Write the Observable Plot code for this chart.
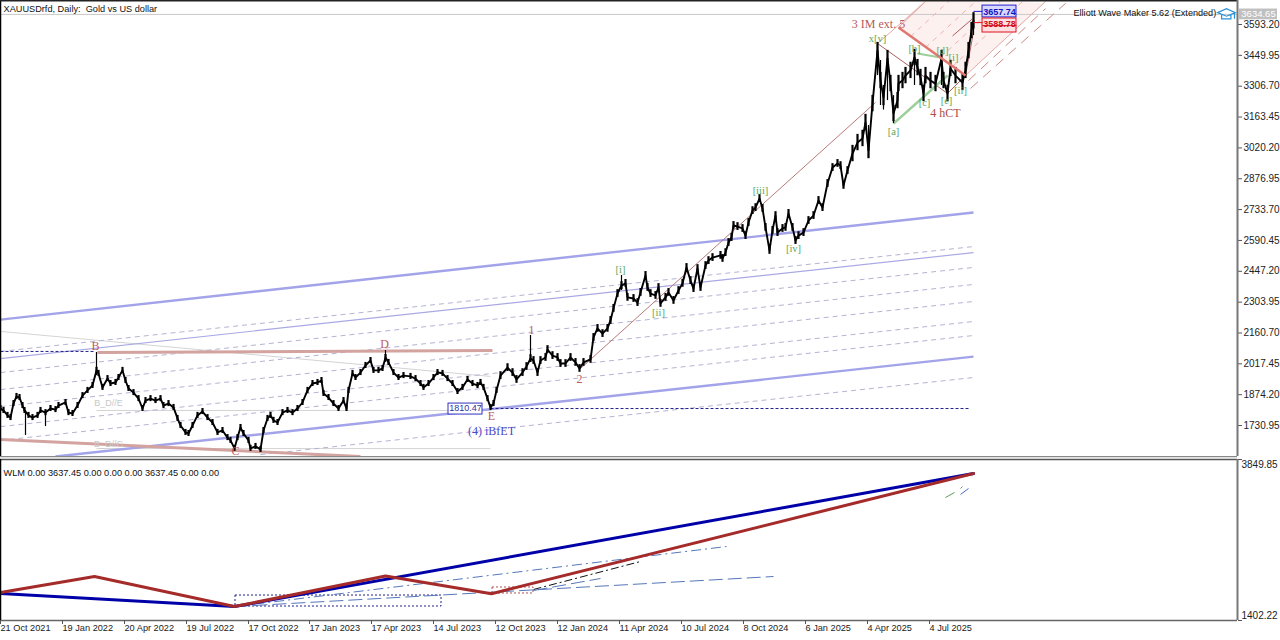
<!DOCTYPE html>
<html><head><meta charset="utf-8">
<script src="https://cdn.jsdelivr.net/npm/d3@7"></script>
<script src="https://cdn.jsdelivr.net/npm/@observablehq/plot@0.6"></script>
<style>html,body{margin:0;padding:0;background:#fff}svg{display:block}#c{width:1280px;height:640px;overflow:hidden}</style>
</head><body><div id="c"></div>
<script>
// ---------- daily bars of XAUUSD (bar number, mid price)
const bars=[0,3,7,10,13,16,19,22,24,28,32,37,40,45,50,55,58,65,68,72,77,82,87,92,96,98,102,107,110,115,118,122,125,128,133,138,142,145,150,155,160,163,168,173,177,180,185,188,192,197,202,207,212,217,222,227,230,234,237,240,243,248,
250,255,260,263,267,270,273,277,282,287,292,297,302,307,312,317,321,323,328,333,338,343,346,348,352,355,360,365,370,373,378,382,385,388,393,398,403,410,415,420,423,428,433,437,442,447,452,457,462,467,472,477,480,483,487,490,493,496,
500,507,512,516,522,526,530,533,537,540,545,547,552,557,560,565,570,575,579,583,590,593,597,602,607,610,613,617,621,625,627,633,637,640,645,647,650,655,658,660,665,668,673,678,682,686,690,693,697,700,705,
708,712,720,722,725,728,731,733,737,742,745,748,752,755,759,762,765,769,772,775,777,782,785,788,792,795,798,803,808,813,818,822,827,832,837,840,843,847,852,857,862,865,868,872,877,880,883,887,890,893,897,898,902,905,910,914,917,920,923,925,930,935,941,943,947,950,955,962,965,968,971,973];
const mids=[1810,1801,1778,1768,1833,1866,1861,1824,1801,1778,1768,1778,1801,1791,1810,1805,1824,1838,1791,1787,1824,1870,1894,1917,1987,1973,1908,1949,1926,1931,1954,1987,1940,1903,1884,1856,1810,1847,1856,1847,1856,1824,1833,1815,1764,1731,1699,1694,1731,1778,1796,1768,1745,1699,1708,1675,1662,1625,1675,1722,1694,1662,
1625,1634,1620,1708,1764,1778,1755,1745,1791,1801,1791,1810,1838,1894,1926,1931,1940,1880,1861,1833,1810,1847,1810,1894,1973,1954,1977,2010,2033,1987,1987,1996,2047,2024,1977,1954,1963,1959,1949,1926,1908,1926,1954,1977,1973,1949,1926,1889,1908,1945,1926,1917,1931,1908,1856,1815,1833,1894,
1963,2000,1977,1945,1977,2005,2042,2033,1977,2033,2047,2084,2056,2047,2019,2019,2047,2024,1996,2024,2038,2140,2182,2158,2182,2219,2275,2344,2381,2391,2326,2321,2302,2349,2428,2372,2344,2335,2372,2298,2326,2349,2312,2358,2391,2465,2404,2367,2460,2372,2474,
2497,2511,2521,2507,2534,2581,2604,2660,2655,2646,2613,2674,2729,2743,2785,2739,2651,2544,2637,2706,2627,2646,2651,2716,2651,2590,2613,2627,2683,2706,2776,2743,2855,2929,2948,2938,2846,2915,2994,3045,3064,3138,3008,3226,3472,3333,3254,3435,3319,3180,3240,3319,3333,3356,3380,3440,3393,3347,3273,3356,3333,3319,3435,3333,3273,3389,3356,3324,3380,3472,3565,3610];
// half-range of a bar, by era: [first bar of era, dollars]
const eraBars=[0,500,850];
const eraSpread=[14,18,38];
// long wicks read individually
const wickBars=[25,45,96,385,530,621,868,877,880,883,887,893,914,941,973];
const wickHighs=[1801,1791,2070,2079,2149,2428,3124,3505,3426,3310,3435,3263,3440,3435,3645];
const wickLows=[1685,1726,1963,2024,2024,2358,2971,3356,3217,3196,3240,3133,3310,3310,3542];

// ---------- axis
const priceTicks=[3593.20,3449.95,3306.70,3163.45,3020.20,2876.95,2733.70,2590.45,2447.20,2303.95,2160.70,2017.45,1874.20,1730.95];
const dateBars=[0,62,124,186,248,309,371,433,495,557,619,681,743,805,867,929];
const dateLabels=["21 Oct 2021","19 Jan 2022","20 Apr 2022","19 Jul 2022","17 Oct 2022","17 Jan 2023","17 Apr 2023","14 Jul 2023","12 Oct 2023","12 Jan 2024","11 Apr 2024","10 Jul 2024","8 Oct 2024","6 Jan 2025","4 Apr 2025","4 Jul 2025"];
const wlmTicks=[3849.85,1402.22];

// ---------- drawn objects as [bar1,price1,bar2,price2]
const channelThick=[[0,2223,973,2720],[55,1587,973,2051]];
const channelThin=[[0,2042,973,2534]];
const channelDashed=[[0,2075,973,2562],[0,1977,973,2465],[0,1898,973,2386],[0,1819,973,2307],[0,1726,973,2214],[0,1662,973,2149],[260,1596,973,1954]];
const greyLines=[[0,2168,490,1959],[96,1801,490,1801],[96,1624,490,1624]];
const triangleLines=[[97,2070,492,2079],[0,1666,360,1587]];
const supportDotted=[[0,2075,95,2075],[490,1810,970,1810]];
const wave5Line=[[580,1996,875,3231]];
const cycleLines=[[877,3505,947,3273],[947,3273,965,3356],[965,3356,973,3560],[952,3540,972,3620]];
const salmonLine=[[898,3579,965,3356]];
const greenThick=[[893,3133,947,3356]];
const greenMid=[[917,3459,940,3440]];
const fanSolid=[[898,3579,925,3700],[965,3356,1045,3700],[877,3505,923,3691]];
const fanDashed=[[910,3537,948,3700],[925,3486,975,3700],[940,3440,1000,3700],[952,3398,1022,3700]];
const fanOuter=[[970,3296,1065,3691],[968,3333,1045,3667]];
const fanBars=[898,923,965,1045];
const fanLow=[3579,3496,3356,3691];
const fanHigh=[3579,3700,3700,3691];
const lastPrice=[[0,3640,1237,3640]];
const boxLinks=[[973,3654,982,3654]];
const redLinks=[[973,3602,982,3602],[982,3588,1016,3588]];

// ---------- labels
const greenText=["[i]","[ii]","[iii]","[iv]","x[v]","[a]","[b]","[c]","[d]","[e]","[i]","[ii]"];
const greenBar=[620,658,760,793,877,893,914,924,942,946,953,960];
const greenPrice=[2456,2256,2822,2553,3528,3096,3482,3231,3472,3240,3440,3287];
const redText=["B","D","1","2","E","C"];
const redBar=[95,384,531,579,491,235];
const redPrice=[2098,2107,2172,1945,1773,1612];

// ---------- WLM pane
const wlmBlueBars=[0,234,973];
const wlmBlue=[1813,1614,3637.45];
const wlmRedBars=[0,94,234,385,491,973];
const wlmRed=[1828,2070,1614,2079,1810,3637.45];
const wlmDashDot=[[234,1614,726,2527]];
const wlmDash=[[234,1614,773,2071],[533,1858,600,2041]];
const wlmBlack=[[533,1874,640,2299]];
const wlmGreen=[[945,3272,954,3348],[960,3409,962,3439]];
const wlmSmallBlue=[[960,3318,968,3409]];

const font="Liberation Sans, Arial, sans-serif";
const serif="Liberation Serif, Times New Roman, serif";
const link=(data,o)=>Plot.link(data,{x1:d=>d[0],y1:d=>d[1],x2:d=>d[2],y2:d=>d[3],...o});
const idx=a=>a.map((_,i)=>i);
const spreadAt=b=>{let s=eraSpread[0];eraBars.forEach((e,i)=>{if(b>=e)s=eraSpread[i]});return s};

const cap={draw(c,s){const r=Math.sqrt(s);c.moveTo(-r,-r*.1);c.lineTo(0,-r*.55);c.lineTo(r,-r*.1);c.lineTo(0,r*.3);c.closePath();
 c.moveTo(-r*.55,r*.15);c.lineTo(-r*.55,r*.6);c.lineTo(r*.5,r*.6);c.lineTo(r*.5,r*.15);c.moveTo(r*.9,0);c.lineTo(r*.9,r*.6);}};

const main=Plot.plot({
 width:1280,height:456,marginLeft:0,marginRight:43,marginTop:0,marginBottom:0,
 style:{background:"#fff",fontFamily:font},
 x:{domain:[0,1237],axis:null},
 y:{domain:[1587.2,3704.6],axis:null},
 marks:[
  Plot.areaY(idx(fanBars),{x:i=>fanBars[i],y1:i=>fanLow[i],y2:i=>fanHigh[i],fill:"#f9d9d6",fillOpacity:.38,curve:"linear"}),
  link(lastPrice,{stroke:"#c8c8c8",strokeWidth:1}),
  link(greyLines,{stroke:"#d4d4d4",strokeWidth:1}),
  link(channelDashed,{stroke:"#b4b4d4",strokeWidth:1,strokeDasharray:"5,4"}),
  link(channelThin,{stroke:"#a9a9e4",strokeWidth:1.2}),
  link(channelThick,{stroke:"#a3a3ea",strokeWidth:2.4}),
  link(triangleLines,{stroke:"#d3a3a0",strokeWidth:3}),
  link(supportDotted,{stroke:"#22228a",strokeWidth:1,strokeDasharray:"3,2"}),
  link(fanSolid,{stroke:"#e3a8a4",strokeWidth:1}),
  link(fanDashed,{stroke:"#eeb4b0",strokeWidth:1,strokeDasharray:"5,5"}),
  link(fanOuter,{stroke:"#c98a86",strokeWidth:1,strokeDasharray:"10,7"}),
  link(wave5Line,{stroke:"#b87a78",strokeWidth:1}),
  link(cycleLines,{stroke:"#a86060",strokeWidth:1}),
  link(greenThick,{stroke:"#9ccf9a",strokeWidth:2.6}),
  link(greenMid,{stroke:"#9ccf9a",strokeWidth:2}),
  Plot.ruleX(idx(wickBars),{x:i=>wickBars[i],y1:i=>wickLows[i],y2:i=>wickHighs[i],stroke:"#000",strokeWidth:1.2}),
  Plot.ruleX(idx(bars),{x:i=>bars[i],y1:i=>mids[i]-spreadAt(bars[i]),y2:i=>mids[i]+spreadAt(bars[i]),stroke:"#000",strokeWidth:2.2}),
  Plot.line(idx(bars),{x:i=>bars[i],y:i=>mids[i],stroke:"#000",strokeWidth:1.9}),
  link(salmonLine,{stroke:"#e07870",strokeWidth:2.5}),
  // target boxes
  Plot.rect([0],{x1:982,x2:1016,y1:3626,y2:3681,fill:"#d8d8ff",stroke:"#2020d0",strokeWidth:1}),
  Plot.rect([0],{x1:982,x2:1016,y1:3556,y2:3621,fill:"#ffe0e0",stroke:"#e01020",strokeWidth:1}),
  link(boxLinks,{stroke:"#2020d0",strokeWidth:1}),
  link(redLinks,{stroke:"#e01020",strokeWidth:1}),
  Plot.text(["3657.74"],{x:999,y:3653,fill:"#1010c0",fontSize:9,fontWeight:"bold"}),
  Plot.text(["3588.78"],{x:999,y:3594,fill:"#d01020",fontSize:9,fontWeight:"bold"}),
  // 1810.47 tag
  Plot.rect([0],{x1:448,x2:482,y1:1782,y2:1833,fill:"#fff",stroke:"#3030c0",strokeWidth:1}),
  Plot.text(["1810.47"],{x:465,y:1810,fill:"#3030a0",fontSize:9}),
  // wave labels
  Plot.text(greenText,{x:(_,i)=>greenBar[i],y:(_,i)=>greenPrice[i],fill:"#5ba85a",fontSize:10.5,fontFamily:serif}),
  Plot.text(redText,{x:(_,i)=>redBar[i],y:(_,i)=>redPrice[i],fill:"#c05a5a",fontSize:12,fontFamily:serif}),
  Plot.text(["3 IM ext. 5"],{x:878,y:3593,fill:"#b85a55",fontSize:12,fontFamily:serif}),
  Plot.text(["4 hCT"],{x:945,y:3180,fill:"#b04a45",fontSize:12,fontFamily:serif}),
  Plot.text(["(4) iBfET"],{x:491,y:1703,fill:"#4a4ac8",fontSize:12,fontFamily:serif}),
  Plot.text(["B_D//E","B_D//C"],{x:108,y:(_,i)=>[1833,1647][i],fill:"#c8c8c8",fontSize:9}),
  // header texts
  Plot.text(["XAUUSDrfd, Daily:  Gold vs US dollar"],{x:3,y:3665,textAnchor:"start",fill:"#111",fontSize:9.2}),
  Plot.text(["Elliott Wave Maker 5.62 (Extended)"],{x:1073,y:3644,textAnchor:"start",fill:"#111",fontSize:9.1}),
  Plot.dot([0],{x:1226,y:3644,r:5,symbol:cap,stroke:"#2a90d8",strokeWidth:1.2,fill:"none"}),
  // axes and borders
  Plot.ruleX([0],{stroke:"#000",strokeWidth:1.5}),
  Plot.ruleY([3704.6],{stroke:"#222",strokeWidth:2}),
  Plot.axisY({anchor:"right",ticks:priceTicks,tickFormat:d=>d.toFixed(2),tickSize:4,tickPadding:2,label:null,fontSize:10,fontFamily:font,fill:"#222",stroke:"#555"}),
  Plot.ruleX([1237],{stroke:"#777",strokeWidth:2}),
  Plot.rect([0],{x1:1239,x2:1277,y1:3615,y2:3665,fill:"#c0c0c0"}),
  Plot.text(["3634.65"],{x:1258,y:3640,fill:"#fff",fontSize:9.5})
 ]});

const wlm=Plot.plot({
 width:1280,height:184,marginLeft:0,marginRight:43,marginTop:3,marginBottom:20,
 style:{background:"#fff",fontFamily:font},
 x:{domain:[0,1237],axis:null},
 y:{domain:[1402.22,3849.85],axis:null},
 marks:[
  Plot.rect([0],{x1:235,x2:441,y1:1615,y2:1782,fill:"none",stroke:"#20208a",strokeWidth:1,strokeDasharray:"2,2"}),
  Plot.rect([0],{x1:492,x2:533,y1:1813,y2:1904,fill:"none",stroke:"#b05050",strokeWidth:1,strokeDasharray:"2,2"}),
  link(wlmDashDot,{stroke:"#5577bb",strokeWidth:1,strokeDasharray:"10,4,2,4"}),
  link(wlmDash,{stroke:"#5577bb",strokeWidth:1,strokeDasharray:"14,5"}),
  link(wlmBlack,{stroke:"#111",strokeWidth:1,strokeDasharray:"8,3,2,3"}),
  link(wlmGreen,{stroke:"#5a9a5a",strokeWidth:1}),
  link(wlmSmallBlue,{stroke:"#4a6ab8",strokeWidth:1}),
  Plot.line(idx(wlmBlue),{x:i=>wlmBlueBars[i],y:i=>wlmBlue[i],stroke:"#0000a8",strokeWidth:3}),
  Plot.line(idx(wlmRed),{x:i=>wlmRedBars[i],y:i=>wlmRed[i],stroke:"#a52a2a",strokeWidth:3}),
  Plot.text(["WLM 0.00 3637.45 0.00 0.00 0.00 3637.45 0.00 0.00"],{x:3,y:3650,textAnchor:"start",fill:"#111",fontSize:9.2}),
  Plot.ruleY([3849.85],{stroke:"#555",strokeWidth:1.5}),
  Plot.ruleY([3849.85],{stroke:"#888",strokeWidth:1.5,dy:-3}),
  Plot.ruleY([1402.22],{stroke:"#666",strokeWidth:1.5}),
  Plot.ruleX([0],{stroke:"#000",strokeWidth:1.5}),
  Plot.ruleX([1237],{stroke:"#777",strokeWidth:2}),
  Plot.axisY({anchor:"right",ticks:wlmTicks,tickFormat:()=>"",tickSize:4,label:null,stroke:"#555"}),
  Plot.text([wlmTicks[0].toFixed(2)],{x:1241,y:wlmTicks[0],dy:5,textAnchor:"start",fill:"#222",fontSize:10}),
  Plot.text([wlmTicks[1].toFixed(2)],{x:1241,y:wlmTicks[1],dy:-5,textAnchor:"start",fill:"#222",fontSize:10}),
  Plot.axisX({anchor:"bottom",ticks:dateBars,tickFormat:d=>dateLabels[dateBars.indexOf(d)],textAnchor:"start",tickSize:4,tickPadding:0,label:null,fontSize:9.2,fontFamily:font,fill:"#222",stroke:"#555"})
 ]});
document.getElementById("c").append(main,wlm);
</script></body></html>
